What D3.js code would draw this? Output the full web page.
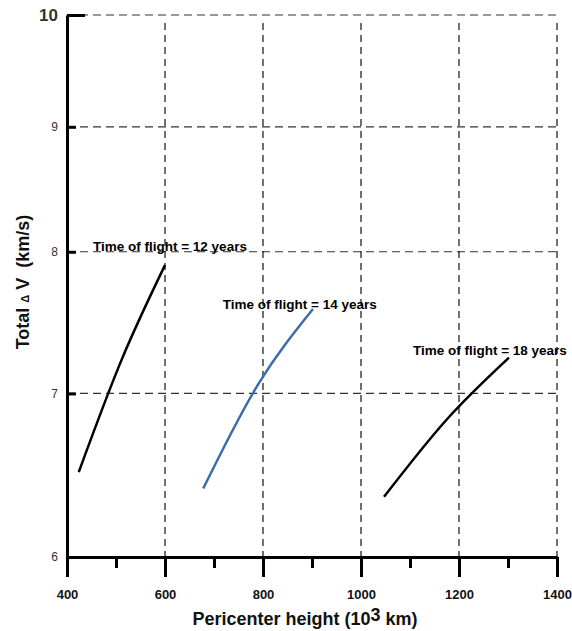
<!DOCTYPE html>
<html>
<head>
<meta charset="utf-8">
<script src="https://cdn.jsdelivr.net/npm/d3@7/dist/d3.min.js"></script>
<style>
  body { margin: 0; background: #fff; }
  svg { font-family: "Liberation Sans", Arial, sans-serif; }
</style>
</head>
<body>
<svg id="svg" width="572" height="631"></svg>
<script>
// values
var xMajor = [400, 600, 800, 1000, 1200, 1400];
var xMinor = [500, 700, 900, 1100, 1300];
var yTicks = [6, 7, 8, 9, 10];

var heights12 = [424, 512, 600];
var dv12 = [6.50, 7.23, 7.90];
var heights14 = [678, 790, 902];
var dv14 = [6.40, 7.06, 7.58];
var heights18 = [1047, 1175, 1302];
var dv18 = [6.35, 6.83, 7.24];

var labels = ["Time of flight = 12 years", "Time of flight = 14 years", "Time of flight = 18 years"];

var svg = d3.select("svg");

var x = d3.scaleLinear().domain([400, 1400]).range([67, 557]);
var y = d3.scaleLog().domain([6, 10]).range([557, 15]);

// grid
svg.append("g").selectAll("line")
    .data(yTicks.slice(1))
    .enter().append("line")
    .attr("x1", x(400)).attr("x2", x(1400))
    .attr("y1", function(d) { return y(d); })
    .attr("y2", function(d) { return y(d); })
    .attr("stroke", "#333")
    .attr("stroke-width", 1.2)
    .attr("stroke-dasharray", "8,5");

svg.append("g").selectAll("line")
    .data(xMajor.slice(1))
    .enter().append("line")
    .attr("x1", function(d) { return x(d); })
    .attr("x2", function(d) { return x(d); })
    .attr("y1", y(10) + 8).attr("y2", y(6))
    .attr("stroke", "#111")
    .attr("stroke-width", 1.2)
    .attr("stroke-dasharray", "7,5");

// curves
var line = d3.line()
    .x(function(d) { return x(d[0]); })
    .y(function(d) { return y(d[1]); })
    .curve(d3.curveNatural);

var series = [
    {h: heights12, v: dv12, color: "#000"},
    {h: heights14, v: dv14, color: "#3a6ea8"},
    {h: heights18, v: dv18, color: "#000"}
];

svg.append("g").selectAll("path")
    .data(series)
    .enter().append("path")
    .attr("fill", "none")
    .attr("stroke", function(d) { return d.color; })
    .attr("stroke-width", 2.5)
    .attr("d", function(d) { return line(d3.zip(d.h, d.v)); });

// curve labels
var labelPos = [[453, 8.0], [718, 7.57], [1106, 7.25]];
svg.append("g").selectAll("text")
    .data(labels)
    .enter().append("text")
    .attr("x", function(d, i) { return x(labelPos[i][0]); })
    .attr("y", function(d, i) { return y(labelPos[i][1]) - 1; })
    .attr("font-size", 13.5)
    .attr("font-weight", "bold")
    .attr("fill", "#000")
    .text(function(d) { return d; });

// x axis
var xAxisMinor = svg.append("g")
    .attr("transform", "translate(0," + y(6) + ")")
    .call(d3.axisBottom(x).tickValues(xMinor).tickSize(11).tickFormat(""));
xAxisMinor.select(".domain").remove();
xAxisMinor.selectAll("line").attr("stroke", "#000").attr("stroke-width", 3);

var xAxis = svg.append("g")
    .attr("transform", "translate(0," + y(6) + ")")
    .call(d3.axisBottom(x).tickValues(xMajor).tickSize(20).tickSizeOuter(0).tickPadding(13)
        .tickFormat(d3.format("d")));
xAxis.select(".domain").attr("stroke", "#000").attr("stroke-width", 3);
xAxis.selectAll("line").attr("stroke", "#000").attr("stroke-width", 3);
xAxis.selectAll("text")
    .attr("font-size", 13)
    .attr("font-weight", "bold")
    .attr("fill", "#111")
    .attr("font-family", "Liberation Sans, Arial, sans-serif");

// y axis
var yAxis = svg.append("g")
    .attr("transform", "translate(" + x(400) + ",0)")
    .call(d3.axisLeft(y).tickValues(yTicks).tickSize(-9).tickSizeOuter(0).tickPadding(9)
        .tickFormat(d3.format("d")));
yAxis.select(".domain").attr("stroke", "#000").attr("stroke-width", 3);
yAxis.selectAll("line").attr("stroke", "#000").attr("stroke-width", 3);
yAxis.selectAll(".tick").filter(function(d) { return d == 10; })
    .select("line").attr("x2", 18);
yAxis.selectAll("text")
    .attr("font-family", "Liberation Sans, Arial, sans-serif")
    .attr("fill", "#333")
    .attr("font-size", function(d) { return d == 10 ? 17 : 12; })
    .attr("font-weight", function(d) { return d == 10 ? "bold" : "normal"; });

// axis titles
var xTitle = svg.append("text")
    .attr("x", 305)
    .attr("y", 625)
    .attr("text-anchor", "middle")
    .attr("font-size", 18)
    .attr("font-weight", "bold")
    .attr("fill", "#111");
xTitle.append("tspan").text("Pericenter height (10");
xTitle.append("tspan").attr("dy", -4).text("3");
xTitle.append("tspan").attr("dy", 4).text(" km)");

var yTitle = svg.append("text")
    .attr("transform", "translate(29,282) rotate(-90)")
    .attr("text-anchor", "middle")
    .attr("font-size", 18)
    .attr("font-weight", "bold")
    .attr("fill", "#111")
    .style("white-space", "pre");
yTitle.append("tspan").text("Total ");
yTitle.append("tspan").attr("font-size", 11).text("Δ");
yTitle.append("tspan").text(" V  (km/s)");
</script>
</body>
</html>
